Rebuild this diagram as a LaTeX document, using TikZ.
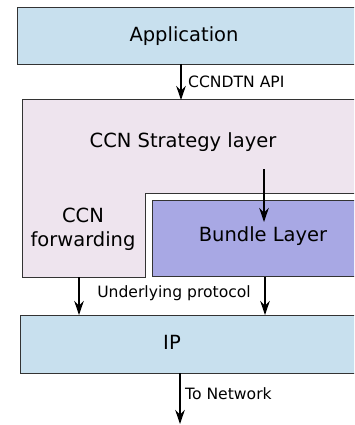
\documentclass[tikz,border=0pt]{standalone}
\usepackage{fontspec}
\setmainfont{DejaVu Sans}
\usetikzlibrary{arrows.meta}
\definecolor{appblue}{HTML}{C8E0EE}
\definecolor{stratpink}{HTML}{EEE4EE}
\definecolor{bundlep}{HTML}{A8A8E4}
\definecolor{edgegray}{HTML}{333333}
\begin{document}
\begin{tikzpicture}[x=1pt,y=-1pt,
  boxline/.style={draw=edgegray, line width=1pt},
  bigtext/.style={font=\fontsize{19.5}{24}\selectfont, align=center, inner sep=0pt},
  lbl/.style={font=\fontsize{15.6}{18}\selectfont, inner sep=0pt},
  arr/.style={line width=1.8pt, -{Stealth[length=14pt,width=9.5pt,inset=4.5pt]}}]
\useasboundingbox (0,0) rectangle (354,425);
\clip (0,0) rectangle (354,425);
% boxes
\node[boxline, fill=appblue, anchor=north west, minimum width=353pt, minimum height=57pt, inner sep=0pt] (app) at (17,7) {};
\draw[boxline, fill=stratpink] (22,100) -- (370,100) -- (370,193) -- (145,193) -- (145,277) -- (22,277) -- cycle;
\node[boxline, fill=bundlep, anchor=north west, minimum width=218pt, minimum height=76pt, inner sep=0pt] (bundle) at (152,200) {};
\node[boxline, fill=appblue, anchor=north west, minimum width=350pt, minimum height=58pt, inner sep=0pt] (ip) at (20,315) {};
% texts
\node[bigtext] (apptext) at (184,36) {Application};
\node[bigtext] (strattext) at (183,142) {CCN Strategy layer};
\node[bigtext] (fwdtext) at (83,229) {CCN\\forwarding};
\node[bigtext] (bundletext) at (263,236) {Bundle Layer};
\node[bigtext] (iptext) at (172,342) {IP};
\node[lbl, anchor=west] (apilbl) at (188,82) {CCNDTN API};
\node[lbl] (ulbl) at (174,293) {Underlying protocol};
\node[lbl, anchor=west] (netlbl) at (185,394) {To Network};
% connector anchors
\coordinate (a1) at (181,64);
\coordinate (a2) at (181,100);
\coordinate (s1) at (264,169);
\coordinate (s2) at (264,222);
\coordinate (f1) at (79,277);
\coordinate (f2) at (79,315);
\coordinate (b1) at (265,277);
\coordinate (b2) at (265,315);
\coordinate (n1) at (180,373);
\coordinate (n2) at (180,424);
\draw[arr] (a1) -- (a2);
\draw[arr] (s1) -- (s2);
\draw[arr] (f1) -- (f2);
\draw[arr] (b1) -- (b2);
\draw[arr] (n1) -- (n2);
\end{tikzpicture}
\end{document}
